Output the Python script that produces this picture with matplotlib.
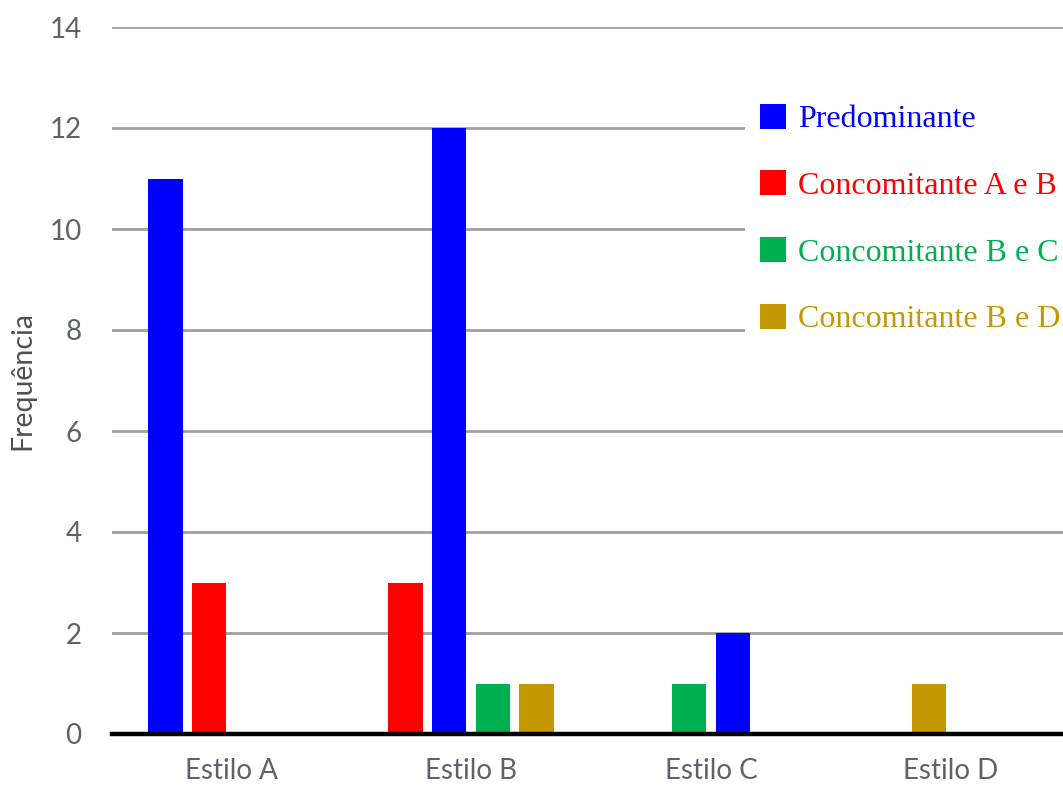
import matplotlib.pyplot as plt
from matplotlib.patches import Patch

# Frequência dos estilos de aprendizagem
categorias = ['Estilo A', 'Estilo B', 'Estilo C', 'Estilo D']
series = ['Predominante', 'Concomitante A e B',
          'Concomitante B e C', 'Concomitante B e D']
cores = ['#0000FF', '#FF0000', '#00B050', '#C49800']

predominante = [11, 12, 2, 0]
concomitante_ab = [3, 3, 0, 0]
concomitante_bc = [0, 1, 1, 0]
concomitante_bd = [0, 1, 0, 1]

# sequência das barras dentro de cada grupo (None = espaço vazio)
ordem = [
    ['Predominante', 'Concomitante A e B'],
    ['Concomitante A e B', 'Predominante', 'Concomitante B e C',
     'Concomitante B e D'],
    [None, 'Concomitante B e C', 'Predominante'],
    [None, 'Concomitante B e D'],
]

valores = dict(zip(series, [predominante, concomitante_ab,
                            concomitante_bc, concomitante_bd]))
cor_serie = dict(zip(series, cores))

fig = plt.figure(figsize=(10.63, 7.85), dpi=100)
ax = fig.add_axes([112 / 1063, 51 / 785, 951 / 1063, 707 / 785])

passo = 0.182
largura = 0.142
for i, grupo in enumerate(ordem):
    for j, nome in enumerate(grupo):
        if nome is None:
            continue
        ax.bar(i + (j - 1.5) * passo, valores[nome][i], width=largura,
               color=cor_serie[nome], zorder=3)

ax.set_xlim(-0.496, 3.467)
ax.set_ylim(0, 14)
ax.set_yticks(range(0, 15, 2))
ax.set_xticks(range(len(categorias)))
ax.set_xticklabels(categorias)

ax.grid(axis='y', color='#a0a0a0', linewidth=2.0, zorder=0)
for lado in ['top', 'right', 'left']:
    ax.spines[lado].set_visible(False)
ax.spines['bottom'].set_color('black')
ax.spines['bottom'].set_linewidth(3.2)
ax.spines['bottom'].set_zorder(4)

ax.tick_params(axis='both', length=0, labelsize=20, labelcolor='#5f6268')
ax.tick_params(axis='y', pad=22)
ax.tick_params(axis='x', pad=17)
for rotulo in ax.get_xticklabels() + ax.get_yticklabels():
    rotulo.set_fontfamily('Lato')

ax.set_ylabel('Frequência', fontsize=20.5, color='#505050', family='Lato',
              labelpad=10)

handles = [Patch(facecolor=c, edgecolor='none') for c in cores]
leg = ax.legend(handles, series, loc='upper left',
                bbox_to_anchor=(745 / 1063, 1 - 89 / 785),
                bbox_transform=fig.transFigure, borderaxespad=0,
                prop={'family': 'Liberation Serif', 'size': 23},
                labelcolor=cores, handlelength=0.83, handleheight=0.83,
                handletextpad=0.38, borderpad=0.46, labelspacing=1.13,
                frameon=True, fancybox=False, facecolor='white',
                edgecolor='none', framealpha=1)
leg.set_zorder(5)

plt.savefig('out.png', dpi=100)
